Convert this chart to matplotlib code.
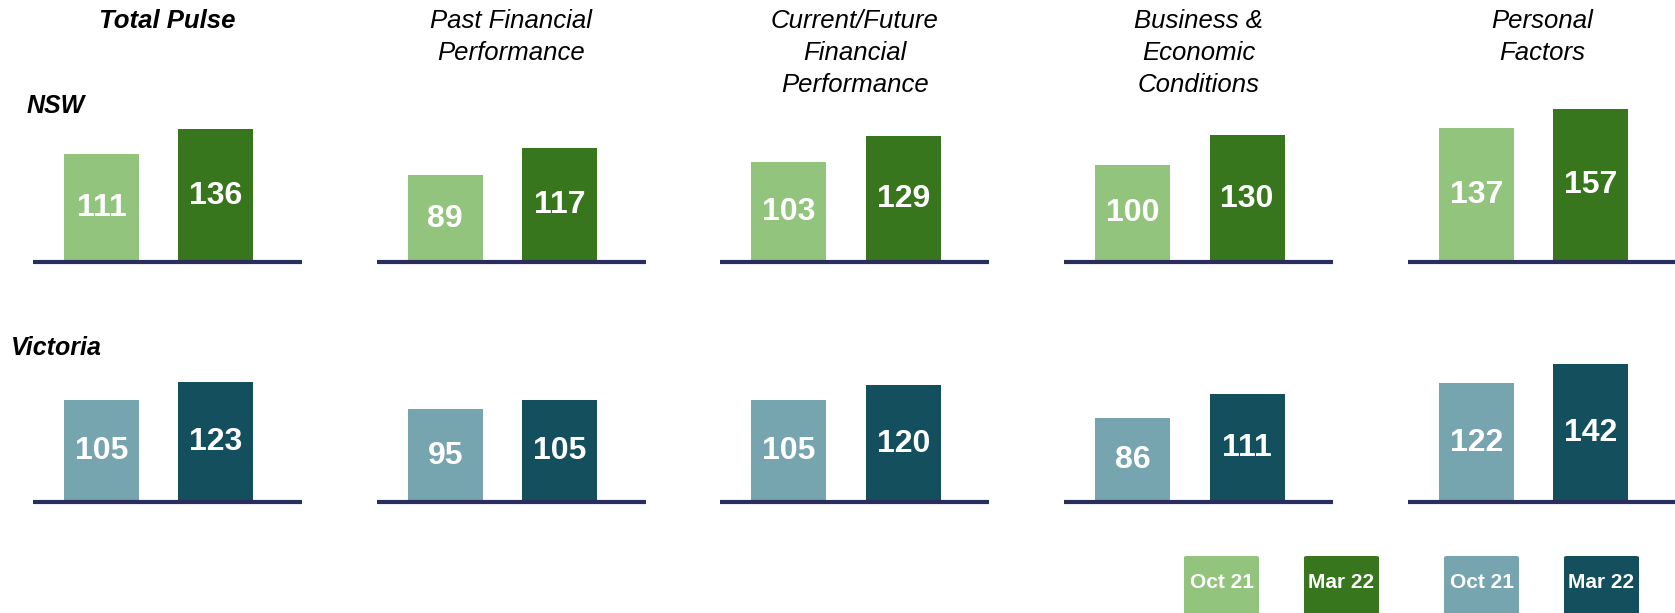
import matplotlib
matplotlib.use("Agg")
import matplotlib.pyplot as plt
from matplotlib.patches import FancyBboxPatch

plt.rcParams['font.family'] = ['Liberation Sans', 'DejaVu Sans']

# data
panels = ["Total Pulse", "Past Financial\nPerformance",
          "Current/Future\nFinancial\nPerformance",
          "Business &\nEconomic\nConditions", "Personal\nFactors"]
periods = ["Oct 21", "Mar 22"]
nsw_oct21 = [111, 89, 103, 100, 137]
nsw_mar22 = [136, 117, 129, 130, 157]
vic_oct21 = [105, 95, 105, 86, 122]
vic_mar22 = [123, 105, 120, 111, 142]

rows = [("NSW", nsw_oct21, nsw_mar22, ["#93C47D", "#38761D"]),
        ("Victoria", vic_oct21, vic_mar22, ["#76A5AF", "#134F5C"])]

W, H = 1675, 613
fig = plt.figure(figsize=(W / 100, H / 100), dpi=100)

line_col = "#2B2D5C"
panel_left = 33
panel_step = 343.7
panel_w = 269
ymax = 180
px_per_unit = 0.975
row_base = [351, 111]          # baseline, pixels from bottom
row_label_xy = [(27, 113), (11, 355)]   # pixels from top-left

for r, (name, a, b, cols) in enumerate(rows):
    fig.text(row_label_xy[r][0] / W, 1 - row_label_xy[r][1] / H, name,
             fontsize=18, fontweight='bold', fontstyle='italic',
             ha='left', va='baseline')
    for i in range(len(panels)):
        left = panel_left + i * panel_step
        ax = fig.add_axes([left / W, row_base[r] / H, panel_w / W,
                           ymax * px_per_unit / H])
        vals = [a[i], b[i]]
        bars = ax.bar([0, 1], vals, width=0.655, color=cols, zorder=1)
        ax.set_xlim(-0.598, -0.598 + panel_w / 114.5)
        ax.set_ylim(0, ymax)
        ax.axhline(0, color=line_col, lw=3, clip_on=False, zorder=3,
                   solid_capstyle='butt')
        for bar, v in zip(bars, vals):
            ax.text(bar.get_x() + bar.get_width() / 2, v / 2, str(v),
                    ha='center', va='center', color='white',
                    fontsize=23, fontweight='bold')
        ax.axis('off')

# column titles
for i, t in enumerate(panels):
    cx = panel_left + i * panel_step + panel_w / 2
    bold = 'bold' if i == 0 else 'normal'
    fig.text(cx / W, 1 - 9 / H, t, ha='center', va='top', fontsize=18.5,
             fontstyle='italic', fontweight=bold, linespacing=1.42)

# legend boxes
leg_x = [1184, 1304, 1444, 1564]
leg_cols = ["#93C47D", "#38761D", "#76A5AF", "#134F5C"]
leg_txt = periods + periods
for x, c, t in zip(leg_x, leg_cols, leg_txt):
    p = FancyBboxPatch((x / W, -10 / H), 75 / W, 67 / H,
                       boxstyle="round,pad=0,rounding_size=0.002",
                       transform=fig.transFigure, fc=c, ec='none')
    fig.patches.append(p)
    fig.text((x + 37.5) / W, 30 / H, t, ha='center', va='center',
             color='white', fontsize=15, fontweight='bold')

fig.savefig("out.png", dpi=100)
